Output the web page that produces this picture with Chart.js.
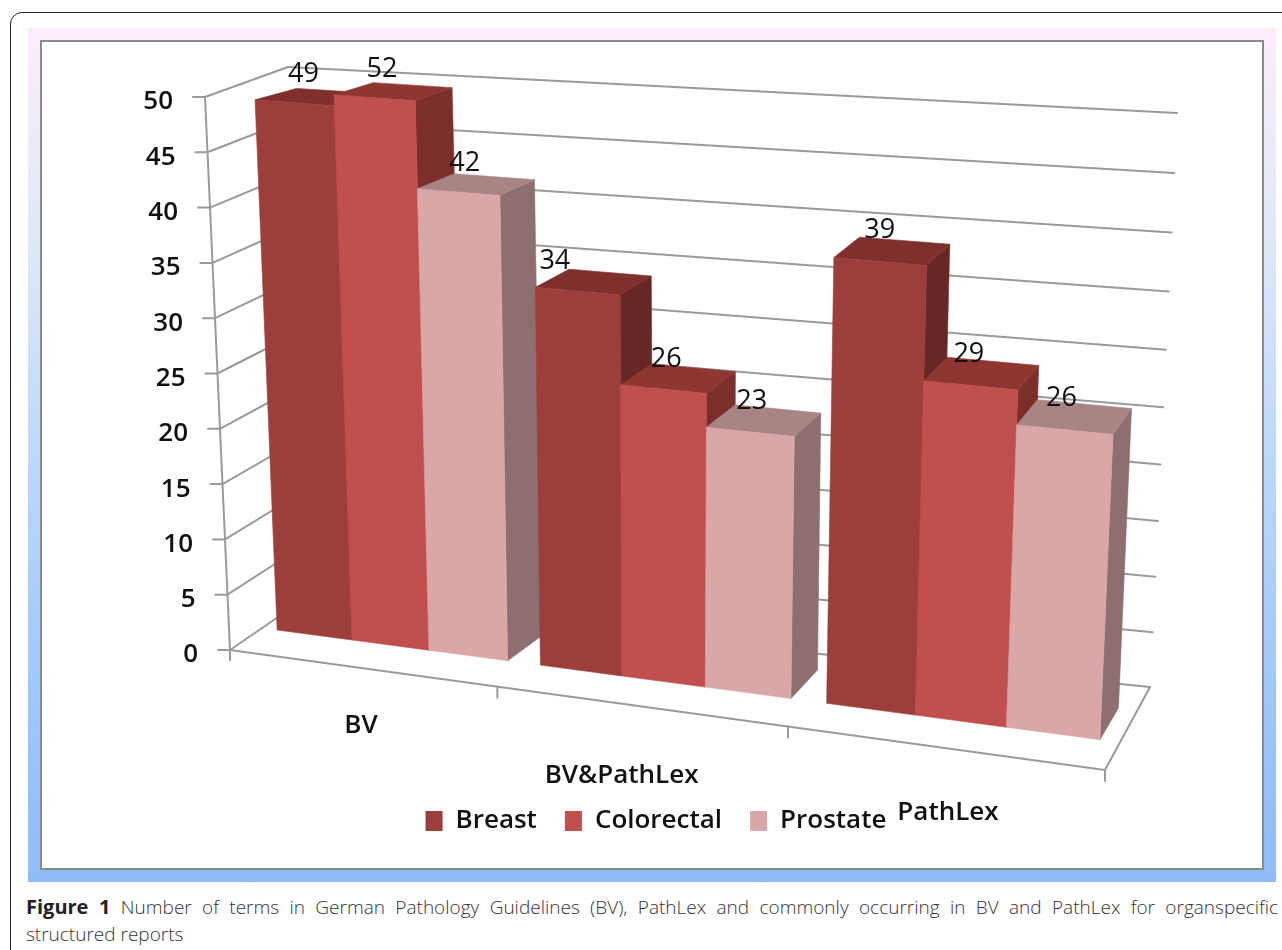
<!DOCTYPE html>
<html>
<head>
<meta charset="utf-8">
<title>Figure 1</title>
<script src="https://cdn.jsdelivr.net/npm/chart.js@4/dist/chart.umd.min.js"></script>
<style>
  html, body { margin: 0; padding: 0; background: #fff; }
  body { position: relative; width: 1282px; height: 950px; overflow: hidden; }
  #card { position: absolute; left: 10px; top: 12px; width: 1290px; height: 960px; box-sizing: border-box;
          border: 1.5px solid #222; border-radius: 12px; }
  #panel { position: absolute; left: 28px; top: 28px; width: 1248px; height: 854px;
           background: linear-gradient(#fcedf9 0%, #dfe8f8 25%, #bcd8fb 50%, #a6ccfc 70%, #90bbfa 100%); }
  #inner { position: absolute; left: 40px; top: 40px; width: 1224px; height: 830px; box-sizing: border-box;
           background: #fff; border: 2px solid #8a8a8a; }
  #chart { position: absolute; left: 0; top: 0; }
  #caption { position: absolute; left: 26px; top: 893px; width: 1252px; font: 300 19px/27px "Open Sans", sans-serif;
             color: #333; }
  #caption div:first-child { text-align: justify; text-align-last: justify; white-space: nowrap; }
  #caption b { color: #222; font-weight: 700; font-size: 20px; }
</style>
</head>
<body>
<div id="card"></div>
<div id="panel"></div>
<div id="inner"></div>
<canvas id="chart" width="1282" height="885"></canvas>
<div id="caption">
  <div><b>Figure 1</b> Number of terms in German Pathology Guidelines (BV), PathLex and commonly occurring in BV and PathLex for organspecific</div>
  <div>structured reports</div>
</div>

<script>
const categories = ['BV', 'BV&PathLex', 'PathLex'];
const breast = [49, 34, 39];
const colorectal = [52, 26, 29];
const prostate = [42, 23, 26];

const frontColors = ['#9c3f3c', '#c0504d', '#d9a7a7'];
const topColors = ['#7f2f2c', '#8e3632', '#a88584'];
const sideColors = ['#672724', '#7c2e2b', '#8c6f6e'];

const textFont = '"Open Sans", sans-serif';

// perspective of the sheared 3D view, all page pixels
const W = 0.88;
const FRONT = { bl: [262, 628], br: [1119.4, 742.3], tl: [238.6, 87.8], tr: [1145.6, 154.5] };
const FLOOR = { fl: [230, 650], fr: [1105, 770], bl: [300, 602], br: [1150, 687] };
const WALL = { tl: [288, 67], tr: [1177, 113] };
const YAXIS_TOP = [205, 97];

// nudges for the category labels, the original has them out of place
const catNudge = [[0, 58], [-18, 69], [5, 65]];

function persp(a, b, u) {
    const d = (1 - u) + W * u;
    return [(a[0] * (1 - u) + b[0] * W * u) / d, (a[1] * (1 - u) + b[1] * W * u) / d];
}

function lerp(a, b, t) {
    return [a[0] + (b[0] - a[0]) * t, a[1] + (b[1] - a[1]) * t];
}

function project(u, v) {
    return lerp(persp(FRONT.bl, FRONT.br, u), persp(FRONT.tl, FRONT.tr, u), v);
}

function depth(p, u, v) {
    return [p[0] + 42 - 24 * u, p[1] - 22 - 10 * u + 11 * v];
}

function poly(ctx, pts, color) {
    ctx.beginPath();
    pts.forEach((p, i) => i ? ctx.lineTo(p[0], p[1]) : ctx.moveTo(p[0], p[1]));
    ctx.closePath();
    ctx.fillStyle = color;
    ctx.strokeStyle = color;
    ctx.lineWidth = 0.6;
    ctx.fill();
    ctx.stroke();
}

function line(ctx, a, b) {
    ctx.beginPath();
    ctx.moveTo(a[0], a[1]);
    ctx.lineTo(b[0], b[1]);
    ctx.stroke();
}

function toUV(chart, x, y) {
    const area = chart.chartArea;
    return [(x - area.left) / area.width,
            Math.min(1, (area.bottom - y) / area.height)];
}

const view3d = {
    id: 'view3d',
    beforeDatasetsDraw(chart) {
        const ctx = chart.ctx;
        const yScale = chart.scales.y;
        const xScale = chart.scales.x;
        ctx.save();
        ctx.strokeStyle = '#9a9a9a';
        ctx.lineWidth = 2;
        ctx.lineCap = 'round';

        yScale.ticks.forEach(t => {
            const v = t.value / yScale.max;
            const front = lerp(FLOOR.fl, YAXIS_TOP, v);
            const corner = lerp(FLOOR.bl, WALL.tl, v);
            const vv = v * 0.95 / (v * 0.95 + 1 - v);
            const end = lerp(FLOOR.br, WALL.tr, vv);
            line(ctx, front, corner);
            line(ctx, corner, end);
            line(ctx, [front[0] - 12, front[1]], front);

            ctx.fillStyle = '#111';
            ctx.font = '600 26px ' + textFont;
            ctx.textAlign = 'right';
            ctx.textBaseline = 'middle';
            ctx.fillText(t.label, front[0] - 32, front[1] + 5);
        });

        line(ctx, FLOOR.fl, YAXIS_TOP);
        line(ctx, FLOOR.fl, FLOOR.fr);
        line(ctx, FLOOR.fr, FLOOR.br);
        line(ctx, FLOOR.fl, [FLOOR.fl[0], FLOOR.fl[1] + 10]);

        categories.forEach((c, i) => {
            const u = (i + 1) / categories.length;
            const p = persp(FLOOR.fl, FLOOR.fr, u);
            line(ctx, p, [p[0], p[1] + 11]);

            const uMid = (xScale.getPixelForValue(i) - chart.chartArea.left) / chart.chartArea.width;
            const m = persp(FLOOR.fl, FLOOR.fr, uMid);
            ctx.fillStyle = '#111';
            ctx.font = '600 26px ' + textFont;
            ctx.textAlign = 'center';
            ctx.textBaseline = 'middle';
            ctx.fillText(c, m[0] + catNudge[i][0], m[1] + catNudge[i][1]);
        });
        ctx.restore();
    },
    beforeDatasetDraw() {
        // the native flat bars are skipped, afterDatasetsDraw paints them in 3D
        return false;
    },
    afterDatasetsDraw(chart) {
        const ctx = chart.ctx;
        const metas = chart.data.datasets.map((ds, k) => chart.getDatasetMeta(k));
        ctx.save();
        // group by group, left to right, so the next bar covers the side of the one before
        categories.forEach((c, i) => {
            metas.forEach((meta, k) => {
                const p = meta.data[i].getProps(['x', 'y', 'base', 'width'], true);
                const [u0, v] = toUV(chart, p.x - p.width / 2, p.y);
                const u1 = u0 + p.width / chart.chartArea.width;
                const bl = project(u0, 0), br = project(u1, 0);
                const tl = project(u0, v), tr = project(u1, v);
                const tlb = depth(tl, u0, v), trb = depth(tr, u1, v), brb = depth(br, u1, 0);
                poly(ctx, [br, tr, trb, brb], sideColors[k]);
                poly(ctx, [tl, tr, trb, tlb], topColors[k]);
                poly(ctx, [bl, br, tr, tl], frontColors[k]);
            });
        });

        ctx.fillStyle = '#111';
        ctx.font = '500 27px ' + textFont;
        ctx.textAlign = 'center';
        ctx.textBaseline = 'middle';
        metas.forEach((meta, k) => {
            meta.data.forEach((el, i) => {
                const [u, v] = toUV(chart, el.x, el.y);
                const p = project(u, v);
                let x = p[0] + 10 - 14 * u;
                // the 34 sits well left of its bar in the original
                if (k === 0 && i === 1) x -= 27;
                ctx.fillText(chart.data.datasets[k].data[i], x, p[1] - 28 - 4 * u);
            });
        });
        ctx.restore();
    }
};

new Chart(document.getElementById('chart'), {
    type: 'bar',
    data: {
        labels: categories,
        datasets: [
            { label: 'Breast', data: breast, backgroundColor: frontColors[0] },
            { label: 'Colorectal', data: colorectal, backgroundColor: frontColors[1] },
            { label: 'Prostate', data: prostate, backgroundColor: frontColors[2] }
        ]
    },
    options: {
        responsive: false,
        animation: false,
        layout: { padding: { left: 30, bottom: 41 } },
        datasets: { bar: { categoryPercentage: 0.88, barPercentage: 1 } },
        scales: {
            x: { display: false },
            y: { display: false, min: 0, max: 50, ticks: { stepSize: 5 } }
        },
        plugins: {
            tooltip: { enabled: false },
            legend: {
                position: 'bottom',
                labels: {
                    boxWidth: 17, boxHeight: 20, padding: 28, color: '#111',
                    font: { family: textFont, size: 26, weight: '600' }
                }
            }
        }
    },
    plugins: [view3d]
});
</script>
</body>
</html>
